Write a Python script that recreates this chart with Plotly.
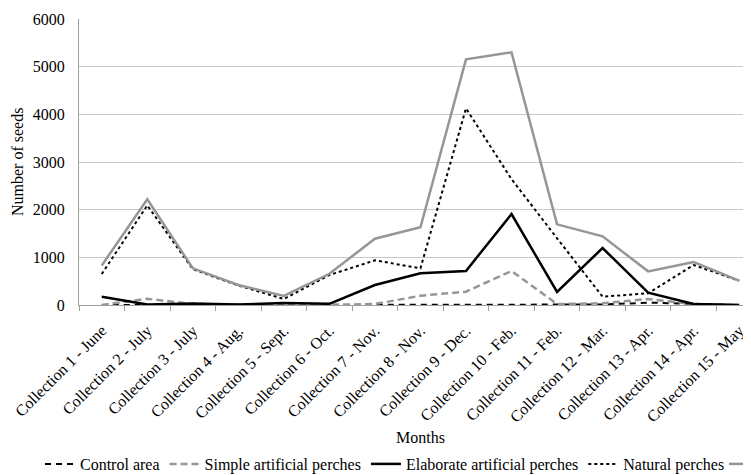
import plotly.graph_objects as go

categories = ["Collection 1 - June", "Collection 2 - July", "Collection 3 - July",
              "Collection 4 - Aug.", "Collection 5 - Sept.", "Collection 6 - Oct.",
              "Collection 7 - Nov.", "Collection 8 - Nov.", "Collection 9 - Dec.",
              "Collection 10 - Feb.", "Collection 11 - Feb.", "Collection 12 - Mar.",
              "Collection 13 - Apr.", "Collection 14 - Apr.", "Collection 15 - May"]

control_area = [0, 5, 0, 0, 0, 0, 0, 0, 0, 0, 0, 10, 50, 20, 0]
simple_perches = [0, 130, 20, 5, 5, 5, 20, 195, 280, 713, 20, 35, 126, 20, 0]
elaborate_perches = [175, 10, 30, 10, 40, 25, 420, 665, 713, 1909, 273, 1196, 258, 20, 0]
natural_perches = [650, 2090, 750, 410, 126, 630, 937, 770, 4126, 2640, 1400, 174, 245, 839, 510]
total = [830, 2217, 770, 420, 190, 655, 1391, 1630, 5154, 5300, 1692, 1440, 706, 902, 510]

y_ticks = [0, 1000, 2000, 3000, 4000, 5000, 6000]

FONT = "Liberation Serif"
GRAY = "#969696"
# page body has an 8px margin, so the figure is sized to fill the rest of the window
FW, FH = 743, 467
L, T, B = 71, 11, 170
W = FW - L
H = FH - T - B

fig = go.Figure()
series = [
    ("Control area", control_area, dict(color="black", width=2, dash="6px,5px"), "legend"),
    ("Simple artificial perches", simple_perches, dict(color=GRAY, width=2.5, dash="7px,4px"), "legend"),
    ("Elaborate artificial perches", elaborate_perches, dict(color="black", width=2.5), "legend"),
    ("Natural perches", natural_perches, dict(color="black", width=2, dash="dot"), "legend"),
    (" ", total, dict(color=GRAY, width=2.5), "legend2"),
]
for name, vals, line, lg in series:
    fig.add_trace(go.Scatter(x=categories, y=vals, mode="lines", name=name, line=line,
                             legend=lg))

y0 = T + H  # pixel of y=0
leg_y = -(439 - y0) / H
fig.update_layout(
    width=FW, height=FH,
    margin=dict(l=L, r=0, t=T, b=B, autoexpand=False),
    paper_bgcolor="white", plot_bgcolor="white",
    font=dict(family=FONT, size=16, color="black"),
    showlegend=True,
    legend=dict(orientation="h", xref="paper", yref="paper",
                x=(32 - L) / W, xanchor="left", y=leg_y, yanchor="top",
                font=dict(family=FONT, size=16), itemwidth=30,
                tracegroupgap=0, bgcolor="rgba(0,0,0,0)"),
    legend2=dict(orientation="h", xref="paper", yref="paper",
                 x=(716 - L) / W, xanchor="left", y=leg_y, yanchor="top",
                 font=dict(family=FONT, size=16), itemwidth=30,
                 bgcolor="rgba(0,0,0,0)"),
    annotations=[
        dict(text="Months", xref="paper", yref="paper", x=(412 - L) / W, y=-(429 - y0) / H,
             showarrow=False, xanchor="center", yanchor="middle", font=dict(size=16)),
        dict(text="Number of seeds", xref="paper", yref="paper", x=-(L - 9) / W, y=0.5,
             showarrow=False, xanchor="center", yanchor="middle", textangle=-90,
             font=dict(size=16)),
    ],
)
fig.update_xaxes(type="category", range=[-0.5, 14.26], tickangle=-45,
                 tickson="boundaries", ticks="outside", ticklen=5, tickcolor="#a0a0a0",
                 ticklabelstandoff=9,
                 showline=True, linecolor="#a0a0a0", linewidth=1, showgrid=False,
                 tickfont=dict(family=FONT, size=16), zeroline=False)
fig.update_yaxes(range=[0, 6000], tickvals=y_ticks, showgrid=True, gridcolor="#c8c8c8",
                 gridwidth=1, showline=True, linecolor="#a0a0a0", linewidth=1,
                 zeroline=False, ticks="outside", ticklen=10, tickcolor="rgba(0,0,0,0)",
                 tickfont=dict(family=FONT, size=16))

fig.write_html("out.html")
